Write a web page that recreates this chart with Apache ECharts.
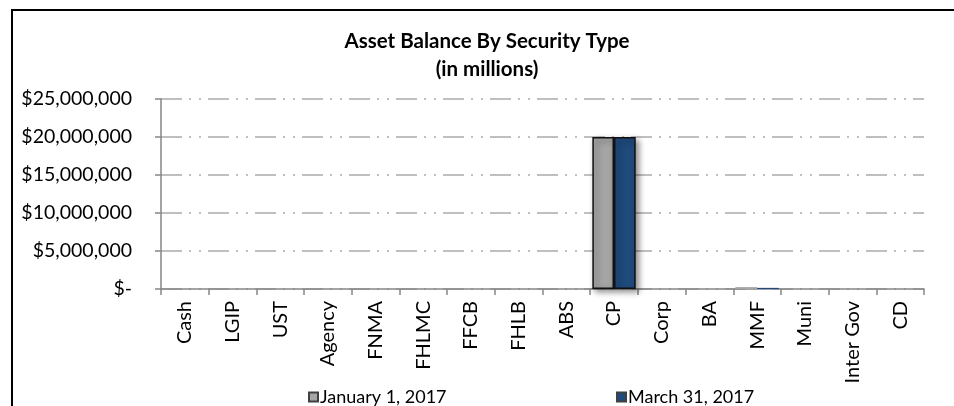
<!DOCTYPE html>
<html>
<head>
<meta charset="utf-8">
<script src="https://cdn.jsdelivr.net/npm/echarts@6/dist/echarts.min.js"></script>
<style>
  html, body { margin: 0; padding: 0; background: #fff; }
  #chart { width: 954px; height: 406px; }
</style>
</head>
<body>
<div id="chart"></div>
<script>
// Security types on the category axis
const categories = ['Cash', 'LGIP', 'UST', 'Agency', 'FNMA', 'FHLMC', 'FFCB', 'FHLB', 'ABS', 'CP', 'Corp', 'BA', 'MMF', 'Muni', 'Inter Gov', 'CD'];
// Balances per security type
const jan2017 = [0, 0, 0, 0, 0, 0, 0, 0, 0, 20000000, 0, 0, 250000, 0, 0, 0];
const mar2017 = [0, 0, 0, 0, 0, 0, 0, 0, 0, 20000000, 0, 0, 150000, 0, 0, 0];
const seriesNames = ['January 1, 2017', 'March 31, 2017'];
const yTicks = [0, 5000000, 10000000, 15000000, 20000000, 25000000];

const FONT = 'Lato, "Liberation Sans", sans-serif';

function money(v) {
  if (v === 0) return '$-';
  return '$' + v.toLocaleString('en-US');
}

// Only substantial bars carry the dark outline and drop shadow
function barData(values) {
  return values.map(v => {
    const big = v >= 1000000;
    return {
      value: v,
      itemStyle: big ? {
        borderColor: '#111',
        borderWidth: 1.5,
        shadowColor: 'rgba(0,0,0,0.45)',
        shadowBlur: 6,
        shadowOffsetX: 3,
        shadowOffsetY: 3
      } : { borderWidth: 0 }
    };
  });
}

const legendBase = {
  top: 383,
  icon: 'rect',
  itemWidth: 9,
  itemHeight: 9,
  itemGap: 4,
  textStyle: { fontFamily: FONT, fontSize: 18, color: '#000', padding: [0, 0, 0, -3] }
};

const chart = echarts.init(document.getElementById('chart'), null, { renderer: 'canvas' });
chart.setOption({
  animation: false,
  backgroundColor: '#fff',
  title: {
    text: 'Asset Balance By Security Type\n(in millions)',
    left: 482,
    top: 22,
    textAlign: 'center',
    textStyle: { fontFamily: FONT, fontWeight: 'bold', fontSize: 20.5, lineHeight: 28, color: '#000' }
  },
  graphic: [{
    type: 'rect',
    shape: { x: 12, y: 10, width: 1000, height: 500 },
    style: { fill: 'none', stroke: '#000', lineWidth: 2 },
    z: 100
  }],
  legend: [
    Object.assign({ data: [seriesNames[0]], left: 303 }, legendBase),
    Object.assign({ data: [seriesNames[1]], left: 611 }, legendBase)
  ],
  grid: { left: 161, right: 30, top: 99, bottom: 117 },
  xAxis: {
    type: 'category',
    data: categories,
    axisLine: { lineStyle: { color: '#868686', width: 1.5 } },
    axisTick: { show: true, length: 6, lineStyle: { color: '#868686', width: 1.5 } },
    axisLabel: { rotate: 90, interval: 0, margin: 12, fontFamily: FONT, fontSize: 20, color: '#000' }
  },
  yAxis: {
    type: 'value',
    min: 0,
    max: 25000000,
    interval: 5000000,
    axisLine: { show: true, lineStyle: { color: '#868686', width: 1.5 } },
    axisTick: { show: true, length: 6, lineStyle: { color: '#868686', width: 1.5 } },
    axisLabel: {
      margin: 29,
      fontFamily: FONT,
      fontSize: 19.5,
      color: '#000',
      formatter: v => yTicks.includes(v) ? money(v) : ''
    },
    splitLine: {
      show: true,
      lineStyle: { color: '#BFBFBF', width: 2, type: [21, 7, 2, 8, 2, 7] }
    }
  },
  series: [{
    name: seriesNames[0],
    type: 'bar',
    data: barData(jan2017),
    itemStyle: { color: '#A5A5A5', borderColor: '#404040', borderWidth: 1 },
    barGap: '0%',
    barCategoryGap: '9%'
  }, {
    name: seriesNames[1],
    type: 'bar',
    data: barData(mar2017),
    itemStyle: { color: '#1F4A7C', borderColor: '#404040', borderWidth: 1 },
    barGap: '0%',
    barCategoryGap: '9%'
  }]
});
</script>
</body>
</html>
